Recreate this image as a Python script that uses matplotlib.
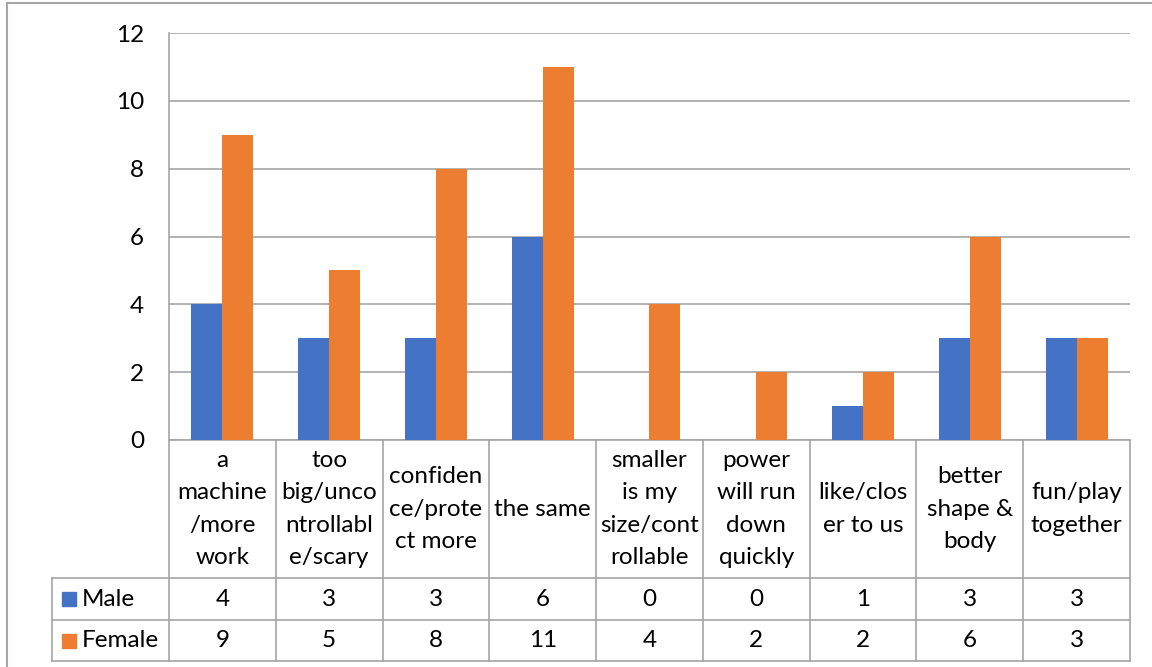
import matplotlib.pyplot as plt
import numpy as np

plt.rcParams['font.family'] = ['Lato', 'DejaVu Sans']

categories = ["a machine/more work", "too big/uncontrollable/scary",
              "confidence/protect more", "the same",
              "smaller is my size/controllable", "power will run down quickly",
              "like/closer to us", "better shape & body", "fun/play together"]
# wrapped the way the category cells show them
cat_labels = ["a\nmachine\n/more\nwork", "too\nbig/unco\nntrollabl\ne/scary",
              "confiden\nce/prote\nct more", "the same",
              "smaller\nis my\nsize/cont\nrollable", "power\nwill run\ndown\nquickly",
              "like/clos\ner to us", "better\nshape &\nbody", "fun/play\ntogether"]
male = [4, 3, 3, 6, 0, 0, 1, 3, 3]
female = [9, 5, 8, 11, 4, 2, 2, 6, 3]
yticks = [0, 2, 4, 6, 8, 10, 12]

blue = "#4472C4"
orange = "#ED7D31"
grid = "#A6A6A6"
fs = 17.5

W, H = 1152, 667
fig = plt.figure(figsize=(W / 100, H / 100), dpi=100)

# plot area in pixel terms
left, right, top, bottom = 169, 1130, 33, 440
ax = fig.add_axes([left / W, 1 - bottom / H, (right - left) / W, (bottom - top) / H])

x = np.arange(len(categories))
bw = 0.29
ax.bar(x - bw / 2, male, bw, color=blue, zorder=3)
ax.bar(x + bw / 2, female, bw, color=orange, zorder=3)

ax.set_xlim(-0.5, len(categories) - 0.5)
ax.set_ylim(0, 12)
ax.set_yticks(yticks)
ax.set_yticklabels([str(t) for t in yticks], fontsize=fs)
ax.set_xticks([])
ax.tick_params(axis='y', length=0, pad=18)
ax.yaxis.grid(True, color=grid, lw=1.2, zorder=0)
for s in ["top", "right", "bottom"]:
    ax.spines[s].set_visible(False)
ax.spines["left"].set_color(grid)
ax.spines["left"].set_linewidth(1.2)

# data table underneath the plot
tr = ax.get_xaxis_transform()
ph = bottom - top


def yf(py):
    return (bottom - py) / ph


def xd(px):
    return (px - left) / (right - left) * len(categories) - 0.5


r_cat, r_male, r_fem = 578, 620, 661
lkw = dict(color=grid, lw=1.2, transform=tr, clip_on=False)
for b in range(len(categories) + 1):
    ax.plot([b - 0.5, b - 0.5], [yf(bottom), yf(r_fem)], **lkw)
ax.plot([-0.5, len(categories) - 0.5], [0, 0], **lkw)
for ry in (r_cat, r_male, r_fem):
    ax.plot([xd(52), len(categories) - 0.5], [yf(ry), yf(ry)], **lkw)
ax.plot([xd(52), xd(52)], [yf(r_cat), yf(r_fem)], **lkw)

for i, lab in enumerate(cat_labels):
    ax.text(i, yf((bottom + r_cat) / 2), lab, transform=tr, ha="center",
            va="center", fontsize=fs, linespacing=1.66, clip_on=False)
    ax.text(i, yf((r_cat + r_male) / 2), str(male[i]), transform=tr,
            ha="center", va="center", fontsize=fs, clip_on=False)
    ax.text(i, yf((r_male + r_fem) / 2), str(female[i]), transform=tr,
            ha="center", va="center", fontsize=fs, clip_on=False)

for name, col, y0, y1 in (("Male", blue, r_cat, r_male), ("Female", orange, r_male, r_fem)):
    yc = (y0 + y1) / 2
    fig.patches.append(plt.Rectangle((62 / W, 1 - (yc + 7) / H), 14 / W, 14 / H,
                                     color=col, transform=fig.transFigure))
    fig.text(82 / W, 1 - yc / H, name, fontsize=fs, va="center", ha="left")

# outer chart border
fig.add_artist(plt.Line2D([7 / W, 7 / W], [0, 1 - 3 / H], color=grid, lw=1.5))
fig.add_artist(plt.Line2D([7 / W, 1], [1 - 3 / H, 1 - 3 / H], color=grid, lw=1.5))

fig.savefig("out.png", dpi=100)
